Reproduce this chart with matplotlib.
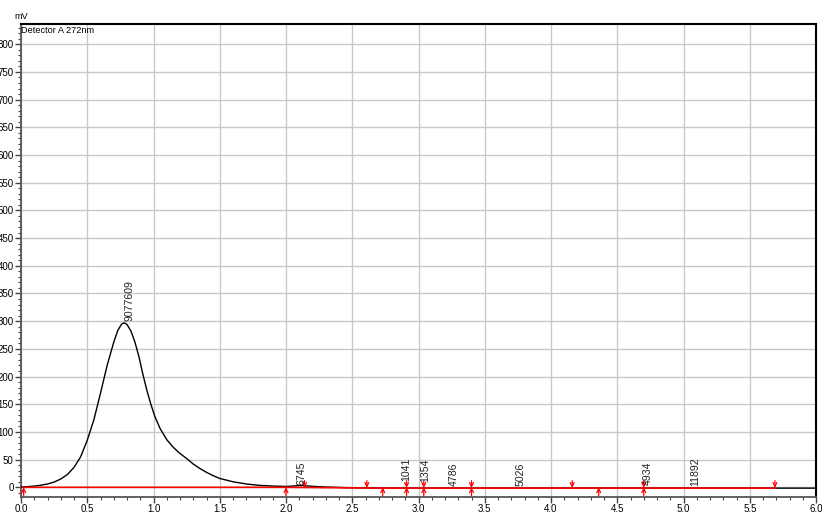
import matplotlib
matplotlib.use("Agg")
import matplotlib.pyplot as plt
from matplotlib.ticker import MultipleLocator

plt.rcParams["font.family"] = ["Liberation Sans", "DejaVu Sans"]

# chromatogram trace (min, mV)
time = [0.00, 0.05, 0.10, 0.15, 0.20, 0.25, 0.30, 0.35, 0.40, 0.45,
        0.50, 0.55, 0.60, 0.65, 0.70, 0.73, 0.76, 0.78, 0.80, 0.83,
        0.86, 0.89, 0.92, 0.95, 0.98, 1.01, 1.05, 1.10, 1.15, 1.20,
        1.25, 1.30, 1.35, 1.40, 1.45, 1.50, 1.60, 1.70, 1.80, 1.90,
        2.00, 2.05, 2.09, 2.12, 2.16, 2.22, 2.30, 2.45, 2.60, 2.75,
        3.00, 3.50, 4.00, 4.50, 5.00, 5.50, 5.69, 6.00]
signal = [0.5, 1.2, 2.2, 3.8, 6, 9.5, 15, 23, 36, 55,
          85, 122, 170, 220, 262, 283, 295, 297, 294, 282,
          262, 236, 204, 175, 150, 128, 106, 86, 72, 61,
          52, 42, 34, 27, 21, 16, 10, 6, 3.5, 2.3,
          1.5, 2.2, 3, 3.2, 2.5, 1.5, 0.5, -0.5, -1, -1.5,
          -1.5, -1.5, -1.5, -1.5, -1.5, -1.5, -1.5, -1.5]

# integration marks
starts = [0.02, 2.00, 2.73, 2.91, 3.04, 3.40, 4.36, 4.70]
ends = [2.14, 2.61, 2.91, 3.04, 3.40, 4.16, 4.70, 5.69]
base_x = [0.02, 2.00, 2.73, 3.40, 4.36, 5.69]
base_y = [0.0, 0.0, -1.5, -1.5, -1.5, -1.5]

# peak areas
peak_t = [0.78, 2.08, 2.87, 3.01, 3.23, 3.73, 4.69, 5.05]
peak_y = [298, 3, 9, 7, 0, 0, 3, 0]
peak_lbl = ["9077609", "6745", "1041", "1354", "4786", "5026", "4934", "11892"]

fig = plt.figure(figsize=(8.22, 5.15), dpi=100)
ax = fig.add_axes([21 / 822, 18 / 515, 795 / 822, 473 / 515])

ax.plot(time, signal, color="black", lw=1.0, zorder=3)
ax.plot(base_x, base_y, color="red", lw=1.2, zorder=4)

for t in starts:
    ax.annotate("", xy=(t, 0), xytext=(t, -15),
                arrowprops=dict(arrowstyle="->", color="red", lw=0.9,
                                mutation_scale=7, shrinkA=0, shrinkB=0),
                zorder=5, annotation_clip=False)
for t in ends:
    ax.annotate("", xy=(t, -1), xytext=(t, 12),
                arrowprops=dict(arrowstyle="->", color="red", lw=0.9,
                                mutation_scale=7, shrinkA=0, shrinkB=0),
                zorder=5)

for t, y, s in zip(peak_t, peak_y, peak_lbl):
    ax.text(t, y + 2, s, rotation=90, ha="left", va="bottom", fontsize=7.6,
            color="#222222", zorder=6)

ax.set_xlim(0, 6.0)
ax.set_ylim(-17.5, 836.5)
ax.xaxis.set_major_locator(MultipleLocator(0.5))
ax.xaxis.set_minor_locator(MultipleLocator(0.1))
ax.yaxis.set_major_locator(MultipleLocator(50))
ax.yaxis.set_minor_locator(MultipleLocator(10))
ax.xaxis.set_major_formatter(plt.FormatStrFormatter("%.1f"))
ax.grid(True, which="major", color="#c8c8c8", lw=1.0, zorder=0)
ax.tick_params(which="major", length=4.3, width=1.0, color="#444444",
               labelsize=7, pad=1)
ax.tick_params(which="minor", length=2.2, width=0.8, color="#444444")
for side in ["left", "bottom"]:
    ax.spines[side].set_color("#555555")
    ax.spines[side].set_linewidth(1.3)
for side in ["top", "right"]:
    ax.spines[side].set_color("black")
    ax.spines[side].set_linewidth(1.5)

ax.text(0.0, 0.995, "Detector A 272nm", transform=ax.transAxes,
        ha="left", va="top", fontsize=6.6)
fig.text(14 / 822, 1 - 21 / 515, "mV", fontsize=6.6, ha="left", va="bottom")

fig.savefig("out.png", dpi=100)
